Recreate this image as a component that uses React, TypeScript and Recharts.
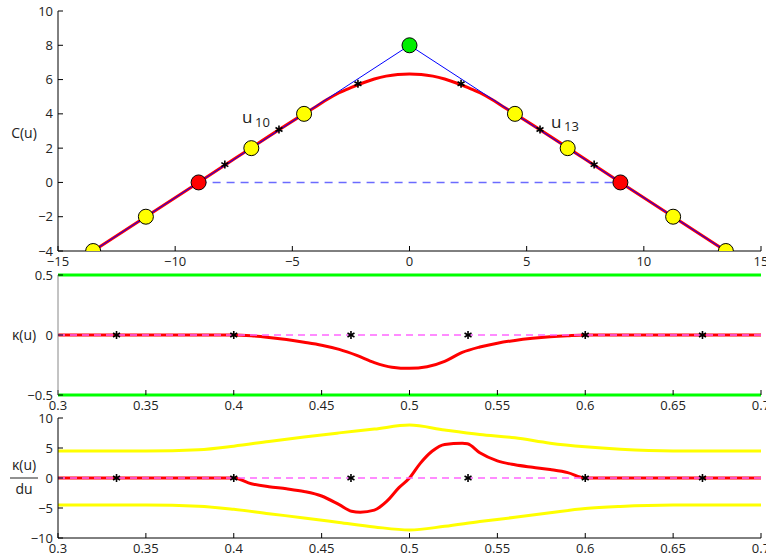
import { ComposedChart, Line, Scatter, XAxis, YAxis, ReferenceLine } from 'recharts'

const FONT = '"Open Sans", "DejaVu Sans", sans-serif'

// top panel: curve C(u) with its control polygon
const polyX = [-13.5, 0, 13.5]
const polyY = [-4, 8, -4]
const curveX = [-13.5, -9, -4.5, -4, -3.5, -3, -2.5, -2, -1.5, -1, -0.5, 0, 0.5, 1, 1.5, 2, 2.5, 3, 3.5, 4, 4.5, 9, 13.5]
const curveY = [-4, 0, 4, 4.42, 4.85, 5.23, 5.53, 5.8, 6.03, 6.2, 6.3, 6.33, 6.3, 6.2, 6.03, 5.8, 5.53, 5.23, 4.85, 4.42, 4, 0, -4]
const baseX = [-9, 9]
const baseY = [0, 0]
const yellowX = [-13.5, -11.25, -6.75, -4.5, 4.5, 6.75, 11.25, 13.5]
const yellowY = [-4, -2, 2, 4, 4, 2, -2, -4]
const redX = [-9, 9]
const redY = [0, 0]
const greenX = [0]
const greenY = [8]
const starX = [-7.88, -5.57, -2.2, 2.2, 5.57, 7.88]
const starY = [1.04, 3.09, 5.76, 5.76, 3.09, 1.04]
const xTicks1 = [-15, -10, -5, 0, 5, 10, 15]
const yTicks1 = [-4, -2, 0, 2, 4, 6, 8, 10]

// middle panel: curvature
const kU = [0.3, 0.4, 0.41, 0.42, 0.43, 0.44, 0.45, 0.46, 0.47, 0.48, 0.49, 0.5, 0.51, 0.52, 0.53, 0.54, 0.55, 0.56, 0.57, 0.58, 0.59, 0.6, 0.7]
const kV = [0, 0, -0.006, -0.02, -0.038, -0.06, -0.085, -0.12, -0.17, -0.23, -0.268, -0.278, -0.265, -0.22, -0.145, -0.1, -0.068, -0.045, -0.028, -0.015, -0.006, 0, 0]
const knotU = [0.3333, 0.4, 0.4667, 0.5333, 0.6, 0.6667]
const knotV = [0, 0, 0, 0, 0, 0]
const zeroU = [0.3, 0.7]
const zeroV = [0, 0]
const uTicks = [0.3, 0.35, 0.4, 0.45, 0.5, 0.55, 0.6, 0.65, 0.7]
const yTicks2 = [-0.5, 0, 0.5]

// bottom panel: curvature derivative with bounds
const dU = [0.3, 0.4, 0.41, 0.42, 0.43, 0.44, 0.45, 0.46, 0.467, 0.472, 0.48, 0.487, 0.494, 0.5, 0.506, 0.513, 0.52, 0.53, 0.533, 0.54, 0.55, 0.56, 0.57, 0.58, 0.59, 0.6, 0.7]
const dV = [0, 0, -0.95, -1.45, -1.8, -2.25, -3.0, -4.45, -5.55, -5.7, -5.35, -3.9, -1.6, 0, 2.4, 4.5, 5.6, 5.78, 5.7, 4.2, 2.85, 2.2, 1.78, 1.4, 0.9, 0, 0]
const bandU = [0.3, 0.35, 0.38, 0.4, 0.42, 0.44, 0.46, 0.48, 0.5, 0.52, 0.54, 0.56, 0.58, 0.6, 0.62, 0.65, 0.7]
const upperV = [4.5, 4.5, 4.7, 5.3, 6.1, 6.85, 7.52, 8.15, 8.83, 8.0, 7.25, 6.7, 5.8, 5.2, 4.8, 4.52, 4.5]
const lowerV = [-4.5, -4.5, -4.7, -5.22, -5.95, -6.65, -7.4, -8.15, -8.67, -8.05, -7.25, -6.55, -5.8, -5.1, -4.75, -4.52, -4.5]
const yTicks3 = [-10, -5, 0, 5, 10]

const pts = (xs: number[], ys: number[]) => xs.map((x, i) => ({ x, y: ys[i] }))

const fmt = (v: number) => String(v).replace('-', '\u2212')

const tickStyle = { fill: '#222', fontSize: 13, fontFamily: FONT }

const Star = (p: any) => {
  const { cx, cy } = p
  const r = 4
  const a = r * 0.87
  const b = r * 0.5
  return (
    <g stroke="#000" strokeWidth={1.6}>
      <line x1={cx} y1={cy - r} x2={cx} y2={cy + r} />
      <line x1={cx - a} y1={cy - b} x2={cx + a} y2={cy + b} />
      <line x1={cx - a} y1={cy + b} x2={cx + a} y2={cy - b} />
    </g>
  )
}

const dot = (fill: string) => (p: any) => (
  <circle cx={p.cx} cy={p.cy} r={7.5} fill={fill} stroke="#000" strokeWidth={1} />
)

const margin = { top: 11, right: 5, left: 0, bottom: 0 }

function xAxis(domain: number[], ticks: number[], line = true) {
  return (
    <XAxis
      type="number"
      dataKey="x"
      domain={domain}
      ticks={ticks}
      interval={0}
      allowDataOverflow
      height={21}
      tickSize={-5}
      tickMargin={11}
      tickFormatter={fmt}
      tick={tickStyle}
      axisLine={line ? { stroke: '#000' } : false}
      tickLine={{ stroke: '#000' }}
    />
  )
}

function yAxis(domain: number[], ticks: number[], color = '#000') {
  return (
    <YAxis
      type="number"
      dataKey="y"
      domain={domain}
      ticks={ticks}
      interval={0}
      allowDataOverflow
      width={58}
      tickSize={-5}
      tickMargin={10}
      tickFormatter={fmt}
      tick={tickStyle}
      axisLine={{ stroke: color }}
      tickLine={{ stroke: '#000' }}
    />
  )
}

function CurvePanel() {
  return (
    <ComposedChart width={766} height={272} margin={margin}>
      {xAxis([-15, 15], xTicks1)}
      {yAxis([-4, 10], yTicks1)}
      <Line data={pts(baseX, baseY)} dataKey="y" stroke="#6b6bff" strokeWidth={1.5} strokeDasharray="8 6" dot={false} isAnimationActive={false} />
      <Line data={pts(curveX, curveY)} dataKey="y" type="monotone" stroke="#ff0000" strokeWidth={3} dot={false} isAnimationActive={false} />
      <Line data={pts(polyX, polyY)} dataKey="y" stroke="#0000ff" strokeWidth={1} dot={false} isAnimationActive={false} />
      <Scatter data={pts(starX, starY)} shape={Star} isAnimationActive={false} />
      <Scatter data={pts(yellowX, yellowY)} shape={dot('#ffff00')} isAnimationActive={false} />
      <Scatter data={pts(redX, redY)} shape={dot('#ff0000')} isAnimationActive={false} />
      <Scatter data={pts(greenX, greenY)} shape={dot('#00ee00')} isAnimationActive={false} />
    </ComposedChart>
  )
}

function KappaPanel() {
  return (
    <ComposedChart width={766} height={152} margin={margin}>
      {xAxis([0.3, 0.7], uTicks, false)}
      {yAxis([-0.5, 0.5], yTicks2, '#888')}
      <ReferenceLine y={0.5} stroke="#00ff00" strokeWidth={3} />
      <ReferenceLine y={-0.5} stroke="#00ff00" strokeWidth={3} />
      <Line data={pts(kU, kV)} dataKey="y" type="monotone" stroke="#ff0000" strokeWidth={3} dot={false} isAnimationActive={false} />
      <Line data={pts(zeroU, zeroV)} dataKey="y" stroke="#ff66ff" strokeWidth={1.5} strokeDasharray="7 5" dot={false} isAnimationActive={false} />
      <Scatter data={pts(knotU, knotV)} shape={Star} isAnimationActive={false} />
    </ComposedChart>
  )
}

function DerivPanel() {
  return (
    <ComposedChart width={766} height={152} margin={margin}>
      {xAxis([0.3, 0.7], uTicks)}
      {yAxis([-10, 10], yTicks3)}
      <Line data={pts(bandU, upperV)} dataKey="y" type="monotone" stroke="#ffff00" strokeWidth={3} dot={false} isAnimationActive={false} />
      <Line data={pts(bandU, lowerV)} dataKey="y" type="monotone" stroke="#ffff00" strokeWidth={3} dot={false} isAnimationActive={false} />
      <Line data={pts(dU, dV)} dataKey="y" type="monotone" stroke="#ff0000" strokeWidth={3} dot={false} isAnimationActive={false} />
      <Line data={pts(zeroU, zeroV)} dataKey="y" stroke="#ff66ff" strokeWidth={1.5} strokeDasharray="7 5" dot={false} isAnimationActive={false} />
      <Scatter data={pts(knotU, knotV)} shape={Star} isAnimationActive={false} />
    </ComposedChart>
  )
}

export default function App() {
  return (
    <div style={{ position: 'absolute', left: 0, top: 0, width: 766, height: 559, background: '#fff', overflow: 'hidden' }}>
      <div style={{ position: 'absolute', left: 0, top: 0 }}>
        <CurvePanel />
      </div>
      <div style={{ position: 'absolute', left: 0, top: 264 }}>
        <KappaPanel />
      </div>
      <div style={{ position: 'absolute', left: 0, top: 407 }}>
        <DerivPanel />
      </div>
      <svg width={766} height={559} style={{ position: 'absolute', left: 0, top: 0, pointerEvents: 'none' }}>
        <g fill="#222" fontFamily={FONT}>
          <text x={24} y={138} fontSize={14} textAnchor="middle">C(u)</text>
          <text x={242} y={123} fontSize={17}>u</text>
          <text x={255} y={127} fontSize={13}>10</text>
          <text x={551} y={128} fontSize={17}>u</text>
          <text x={564} y={131} fontSize={13}>13</text>
          <text x={24} y={340} fontSize={14} textAnchor="middle">κ(u)</text>
          <text x={24} y={470} fontSize={14} textAnchor="middle">κ(u)</text>
          <line x1={10} y1={478} x2={38} y2={478} stroke="#222" strokeWidth={1} />
          <text x={24} y={494} fontSize={14} textAnchor="middle">du</text>
        </g>
      </svg>
    </div>
  )
}
